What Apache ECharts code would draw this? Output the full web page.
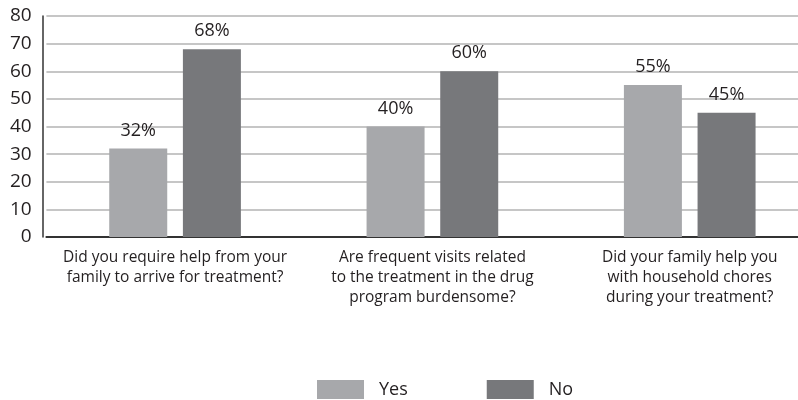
<!DOCTYPE html>
<html>
<head>
<meta charset="utf-8">
<script src="https://cdn.jsdelivr.net/npm/echarts@6/dist/echarts.min.js"></script>
<style>
  html, body { margin: 0; padding: 0; background: #fff; }
  #chart { width: 798px; height: 400px; }
</style>
</head>
<body>
<div id="chart"></div>
<script>
// Survey questions (category axis)
const categories = [
  'Did you require help from your\nfamily to arrive for treatment?',
  'Are frequent visits related\nto the treatment in the drug\nprogram burdensome?',
  'Did your family help you\nwith household chores\nduring your treatment?'
];
// Share of answers, percent
const yesValues = [32, 40, 55];
const noValues = [68, 60, 45];
const yTicks = [0, 10, 20, 30, 40, 50, 60, 70, 80];

const textColor = '#231f20';
const mainFont = '"Open Sans", "Noto Sans", sans-serif';

const chart = echarts.init(document.getElementById('chart'), null, { renderer: 'canvas' });

const dataLabel = {
  show: true,
  position: 'top',
  distance: 9,
  formatter: p => p.value + '%',
  color: textColor,
  fontFamily: mainFont,
  fontSize: 18
};

chart.setOption({
  animation: false,
  grid: {
    left: 46.4, width: 772, top: 16, bottom: 163,
    containLabel: false,
    outerBoundsMode: 'none'
  },
  legend: {
    top: 380,
    left: 317,
    padding: 0,
    itemWidth: 47,
    itemHeight: 19,
    itemGap: 79,
    icon: 'rect',
    textStyle: { color: textColor, fontFamily: mainFont, fontSize: 18, padding: [0, 0, 0, 10] },
    data: ['Yes', 'No']
  },
  xAxis: {
    type: 'category',
    data: categories,
    axisTick: { show: false },
    axisLine: { lineStyle: { color: '#333', width: 2 } },
    axisLabel: {
      interval: 0,
      margin: 11,
      color: textColor,
      fontFamily: mainFont,
      fontSize: 15.5,
      lineHeight: 20,
      align: 'center'
    }
  },
  yAxis: {
    type: 'value',
    min: yTicks[0],
    max: yTicks[yTicks.length - 1],
    interval: 10,
    offset: 3.7,
    axisLine: { show: true, lineStyle: { color: '#333', width: 1.5 } },
    axisTick: { show: false },
    axisLabel: { color: textColor, fontFamily: mainFont, fontSize: 19, margin: 11 },
    splitLine: { lineStyle: { color: '#b3b3b3', width: 1.5 } }
  },
  series: [
    {
      name: 'Yes',
      type: 'bar',
      data: yesValues,
      barWidth: 58,
      barGap: '27%',
      itemStyle: { color: '#a7a8ab' },
      label: dataLabel
    },
    {
      name: 'No',
      type: 'bar',
      data: noValues,
      barWidth: 58,
      barGap: '27%',
      itemStyle: { color: '#77787b' },
      label: dataLabel
    }
  ]
});
</script>
</body>
</html>
